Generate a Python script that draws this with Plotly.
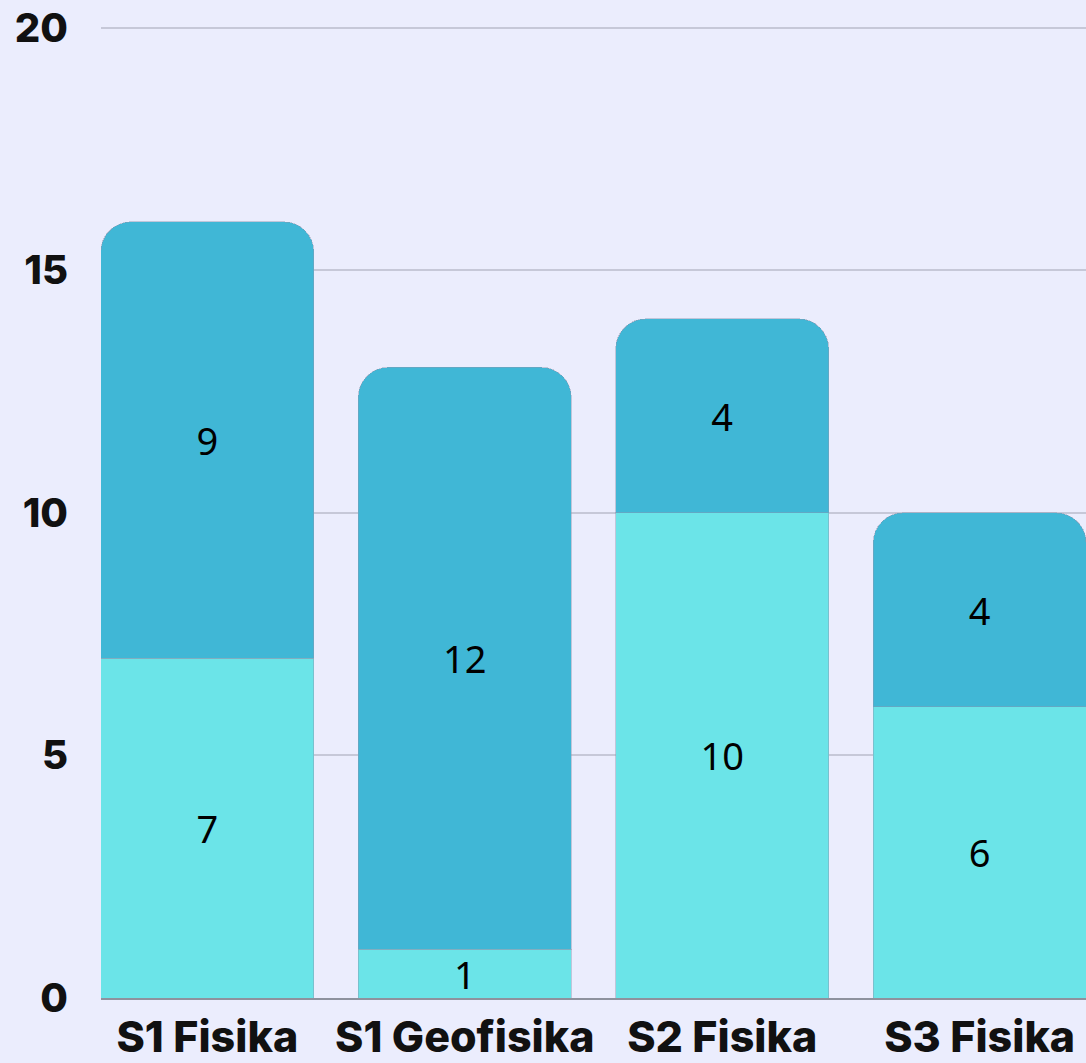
import plotly.graph_objects as go

categories = ["S1 Fisika", "S1 Geofisika", "S2 Fisika", "S3 Fisika"]
lower_values = [7, 1, 10, 6]
upper_values = [9, 12, 4, 4]
y_ticks = [0, 5, 10, 15, 20]

light = "#6BE4E8"
dark = "#40B7D6"
bg = "#EBEDFD"

label_font = dict(family="Noto Sans", size=38, color="black")

fig = go.Figure()
fig.add_trace(go.Bar(
    x=categories, y=lower_values, text=lower_values,
    marker=dict(color=light, line=dict(width=1, color="rgba(140,150,175,0.45)")),
    textposition="inside", insidetextanchor="middle", textangle=0,
    textfont=label_font, showlegend=False,
))
fig.add_trace(go.Bar(
    x=categories, y=upper_values, text=upper_values,
    marker=dict(color=dark, line=dict(width=1, color="rgba(140,150,175,0.45)")),
    textposition="inside", insidetextanchor="middle", textangle=0,
    textfont=label_font, showlegend=False,
))

fig.update_layout(
    barmode="stack",
    barcornerradius=30,
    bargap=0.173,
    width=1086, height=1063,
    margin=dict(l=101, r=0, t=23, b=65),
    paper_bgcolor=bg, plot_bgcolor=bg,
    uniformtext=dict(minsize=38, mode="show"),
    xaxis=dict(
        range=[-0.413, 3.413],
        showline=True, linecolor="#8E929E", linewidth=2,
        showgrid=False, ticks="",
        tickfont=dict(family="Inter", size=43, color="#111111", weight=800),
    ),
    yaxis=dict(
        range=[0, 20.1], tickvals=y_ticks,
        showgrid=True, gridcolor="#C6C8D8", gridwidth=2,
        zeroline=False, showline=False, ticks="",
        ticklabelstandoff=32,
        tickfont=dict(family="Inter", size=40, color="#111111", weight=800),
    ),
)

fig.write_html(
    "out.html",
    config={"displayModeBar": False},
    post_script="document.body.style.margin='0';document.body.style.overflow='hidden';",
)
